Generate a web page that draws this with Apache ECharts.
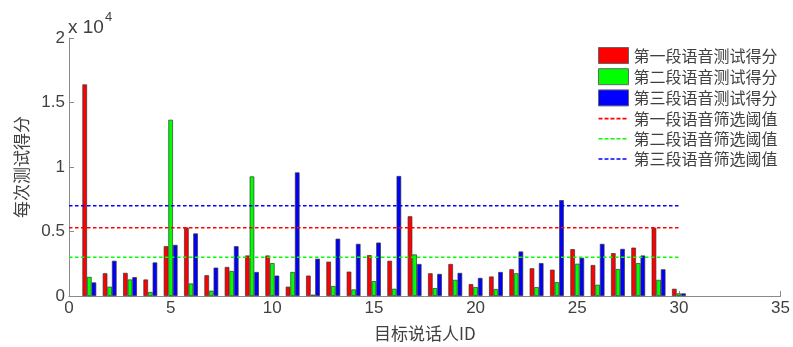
<!DOCTYPE html>
<html>
<head>
<meta charset="utf-8">
<script src="https://cdn.jsdelivr.net/npm/echarts@6/dist/echarts.min.js"></script>
<style>
html,body{margin:0;padding:0;background:#fff;}
#c{width:793px;height:347px;}
</style>
</head>
<body>
<div id="c"></div>
<script>
// Speaker IDs
var speakerIds = [1,2,3,4,5,6,7,8,9,10,11,12,13,14,15,16,17,18,19,20,21,22,23,24,25,26,27,28,29,30];
// Scores per test segment
var score1 = [16400,1760,1790,1280,3860,5310,1610,2250,3140,3140,720,1580,2660,1890,3170,2730,6180,1760,2480,920,1510,2070,2150,2040,3630,2400,3320,3750,5290,560];
var score2 = [1480,720,1280,310,13660,970,410,1940,9270,2550,1860,100,770,510,1150,560,3220,610,1250,690,540,1760,690,1070,2500,870,2090,2550,1250,200];
var score3 = [1050,2730,1460,2600,3960,4850,2200,3860,1860,1580,9580,2890,4440,4040,4140,9300,2480,1710,1790,1400,1860,3450,2550,7430,2960,4040,3650,3140,2070,200];
// Threshold values and their x extent
var threshold1 = 5300;
var threshold2 = 3000;
var threshold3 = 7000;
var thresholdRange = [0, 30];
// Names
var barNames = ['第一段语音测试得分','第二段语音测试得分','第三段语音测试得分'];
var lineNames = ['第一段语音筛选阈值','第二段语音筛选阈值','第三段语音筛选阈值'];
var xTitle = '目标说话人ID';
var yTitle = '每次测试得分';

var colors = ['#ff0000','#00ff00','#0000ff'];
var latin = '"Liberation Sans", Arial, sans-serif';
var cjk = '"Noto Sans CJK SC", sans-serif';
var txt = '#404040';
var dashIcon = 'path://M0,0h4v1.6h-4z M6,0h4v1.6h-4z M12,0h4v1.6h-4z M18,0h4v1.6h-4z M24,0h4v1.6h-4z M30,0h0.01v1.6h-0.01z';

function pairs(vals){ return speakerIds.map(function(id,i){ return [id, vals[i]]; }); }
function hline(v){ return thresholdRange.map(function(x){ return [x, v]; }); }

var scores = [score1, score2, score3];
var thresholds = [threshold1, threshold2, threshold3];
var series = [];
scores.forEach(function(s, k){
  series.push({
    type:'bar', name:barNames[k], data:pairs(s),
    barWidth:4.6, barGap:'0%',
    itemStyle:{color:colors[k], borderColor:'#333', borderWidth:0.7},
    silent:true, z:2
  });
});
thresholds.forEach(function(t, k){
  series.push({
    type:'line', name:lineNames[k], data:hline(t),
    symbol:'none', silent:true, z:5,
    lineStyle:{color:colors[k], width:1.5, type:[3.5,2.5]},
    itemStyle:{color:colors[k]}
  });
});

var legendData = barNames.map(function(n){ return {name:n, icon:'rect', itemStyle:{borderColor:'#666', borderWidth:1}}; })
  .concat(lineNames.map(function(n){ return {name:n, icon:dashIcon, itemStyle:{borderWidth:0}}; }));

var chart = echarts.init(document.getElementById('c'), null, {renderer:'canvas'});
chart.setOption({
  animation:false,
  backgroundColor:'#fff',
  grid:{left:69, right:12, top:38, bottom:48, containLabel:false},
  xAxis:{
    type:'value', min:0, max:35, interval:5,
    name:xTitle, nameLocation:'middle', nameGap:29,
    nameTextStyle:{fontFamily:cjk, fontSize:17, color:txt},
    axisLine:{show:true, lineStyle:{color:'#8a8a8a', width:1}},
    axisTick:{show:true, inside:true, length:5, lineStyle:{color:'#8a8a8a'}},
    axisLabel:{fontFamily:latin, fontSize:17, color:txt, margin:4},
    splitLine:{show:false}
  },
  yAxis:{
    type:'value', min:0, max:20000, interval:5000,
    name:yTitle, nameLocation:'middle', nameGap:32, nameRotate:90,
    nameTextStyle:{fontFamily:cjk, fontSize:17, color:txt},
    axisLine:{show:true, lineStyle:{color:'#8a8a8a', width:1}},
    axisTick:{show:true, inside:true, length:5, lineStyle:{color:'#8a8a8a'}},
    axisLabel:{fontFamily:latin, fontSize:17, color:txt, margin:4,
      formatter:function(v){ return String(v/10000); }},
    splitLine:{show:false}
  },
  legend:{
    orient:'vertical', left:598, top:47, padding:0,
    itemWidth:30, itemHeight:16, itemGap:4.2,
    data:legendData,
    textStyle:{fontFamily:cjk, fontSize:16, color:txt, lineHeight:16, padding:0},
    selectedMode:false
  },
  graphic:[
    {type:'text', left:68, top:18, style:{text:'x 10', fontFamily:latin, fontSize:19, fill:txt}},
    {type:'text', left:105, top:11, style:{text:'4', fontFamily:latin, fontSize:13, fill:txt}}
  ],
  series:series
});
</script>
</body>
</html>
